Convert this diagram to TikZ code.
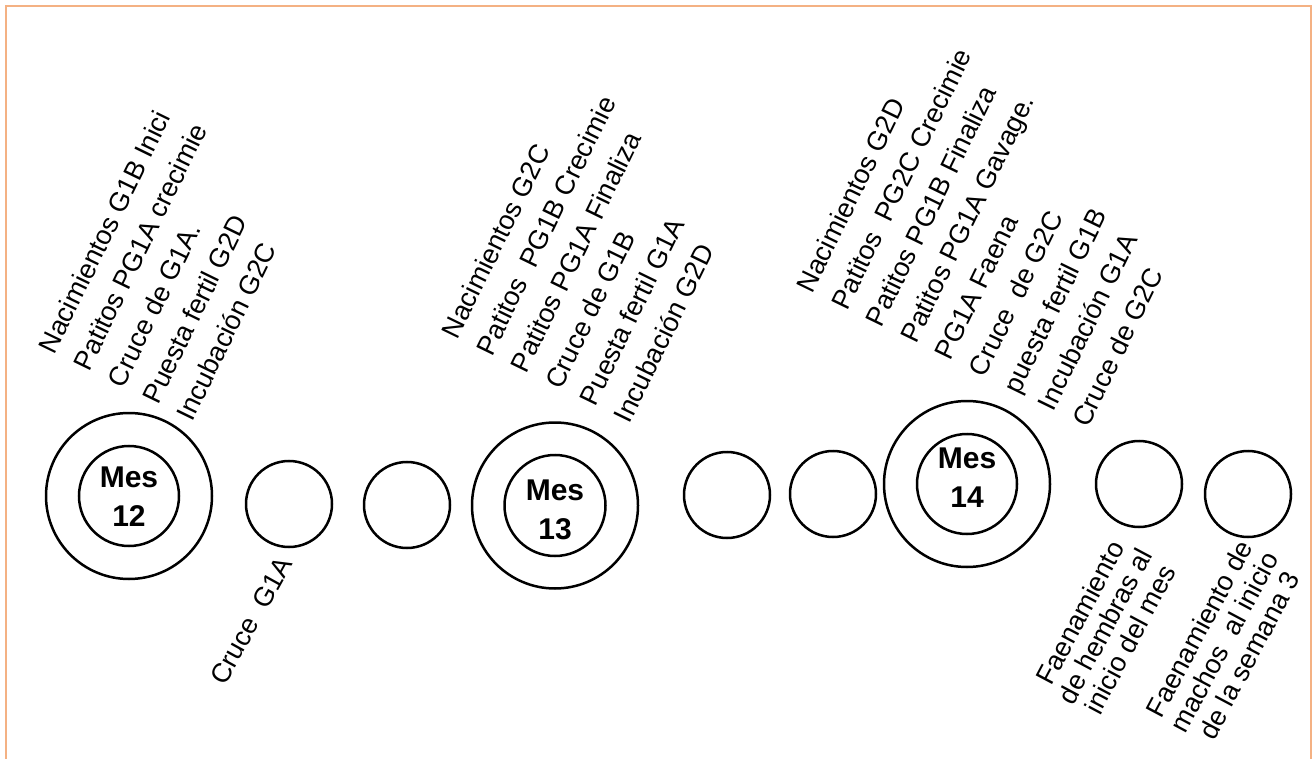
\documentclass[tikz,border=0pt]{standalone}
\usepackage{fontspec}
\setmainfont{Liberation Sans}
\definecolor{frameorange}{RGB}{244,177,131}
\begin{document}
\begin{tikzpicture}[x=1pt,y=-1pt,
  bigring/.style={circle,draw,line width=2.5pt,inner sep=0pt,minimum size=166pt},
  monthring/.style={circle,draw,line width=2.5pt,inner sep=0pt,minimum size=100pt},
  monthtext/.style={align=center,inner sep=0pt,font=\fontsize{30}{39}\selectfont\bfseries},
  week/.style={circle,draw,line width=2.5pt,inner sep=0pt,minimum size=86pt},
  toplist/.style={align=left,rotate=64,anchor=north west,inner sep=0pt,
    font=\fontsize{27}{38.3}\selectfont},
  botlist/.style={align=center,rotate=62,anchor=center,inner sep=0pt,
    font=\fontsize{27}{28.3}\selectfont}]
\useasboundingbox (0,0) rectangle (1312,759);
\draw[frameorange,line width=2pt] (6,770) -- (6,6) -- (1311,6) -- (1311,770);

% month 12
\node[bigring] (r12) at (129,496) {};
\node[monthring] (c12) at (129,496) {};
\node[monthtext] (m12) at (129,497) {Mes\\12};
\node[week] (w1) at (289,504) {};
\node[week] (w2) at (407,505) {};
% month 13
\node[bigring] (r13) at (555,505.5) {};
\node[monthring,minimum size=101pt] (c13) at (555,505.5) {};
\node[monthtext] (m13) at (555,510) {Mes\\13};
\node[week] (w3) at (727,495) {};
\node[week] (w4) at (833,494) {};
% month 14
\node[bigring] (r14) at (967,484) {};
\node[monthring] (c14) at (967,484) {};
\node[monthtext] (m14) at (967,478) {Mes\\14};
\node[week] (w5) at (1139,484) {};
\node[week] (w6) at (1248,494) {};

% upper lists
\node[toplist] (l12) at (37,347) {Nacimientos G1B Inici\\Patitos PG1A crecimie\\Cruce de G1A.\\Puesta fertil G2D\\Incubación G2C};
\node[toplist] (l13) at (440,332) {Nacimientos G2C\\Patitos\ \ PG1B Crecimie\\Patitos PG1A Finaliza\\Cruce de G1B\\Puesta fertil G1A\\Incubación G2D};
\node[toplist] (l14) at (795,286) {Nacimientos G2D\\Patitos\ \ PG2C Crecimie\\Patitos PG1B Finaliza\\Patitos PG1A Gavage.\\PG1A Faena\\Cruce\ \ de G2C\\puesta fertil G1B\\Incubación G1A\\Cruce de G2C};

% lower labels
\node[rotate=61,anchor=base west,inner sep=0pt,font=\fontsize{27}{30}\selectfont] (c1) at (225,687) {Cruce\ \ G1A};
\node[botlist] (f1) at (1105,626) {Faenamiento\\de hembras al\\inicio del mes};
\node[botlist] (f2) at (1224,642) {Faenamiento de\\machos\ \ al inicio\\de la semana 3};
\end{tikzpicture}
\end{document}
